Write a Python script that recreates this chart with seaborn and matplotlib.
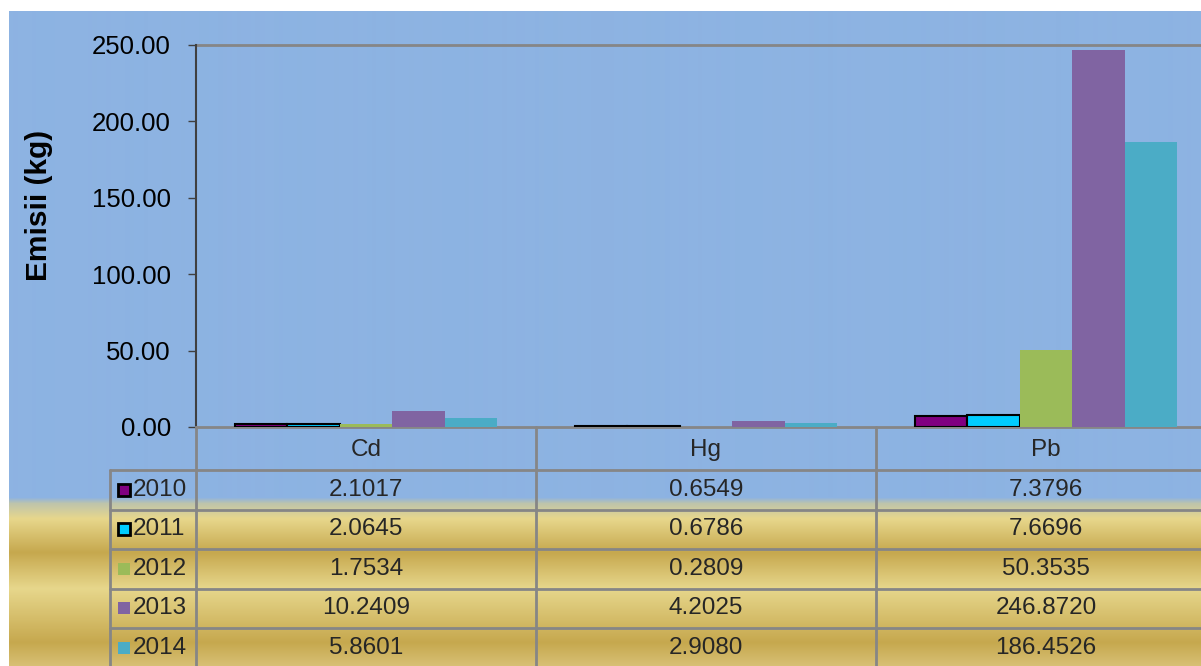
import numpy as np
import pandas as pd
import matplotlib
matplotlib.use("Agg")
import matplotlib.pyplot as plt
import matplotlib.transforms as mtransforms
import seaborn as sns

# --- data -------------------------------------------------------------
metals = ["Cd", "Hg", "Pb"]
years = ["2010", "2011", "2012", "2013", "2014"]
v2010 = [2.1017, 0.6549, 7.3796]
v2011 = [2.0645, 0.6786, 7.6696]
v2012 = [1.7534, 0.2809, 50.3535]
v2013 = [10.2409, 4.2025, 246.8720]
v2014 = [5.8601, 2.9080, 186.4526]
series = [v2010, v2011, v2012, v2013, v2014]
y_ticks = [0, 50, 100, 150, 200, 250]
y_label = "Emisii (kg)"

colors = ["#800080", "#00CCFF", "#9BBB59", "#8064A2", "#4BACC6"]
outlined = {"2010", "2011"}

df = pd.DataFrame(
    [(m, y, vals[i]) for y, vals in zip(years, series) for i, m in enumerate(metals)],
    columns=["metal", "year", "value"],
)

# --- figure layout (pixel based) -------------------------------------
W, H, DPI = 1201, 666, 100
sns.set_theme(style="white")
plt.rcParams["font.family"] = ["Liberation Sans", "DejaVu Sans"]
FS_TICK = 18.5
FS_TABLE = 17.5
FS_LABEL = 21.5

fig = plt.figure(figsize=(W / DPI, H / DPI), dpi=DPI, facecolor="white")

# background panel with the blue -> gold banded gradient
bg_left, bg_top = 9, 11
bg = fig.add_axes([bg_left / W, 0, 1 - bg_left / W, (H - bg_top) / H], zorder=0)
stops_y = [bg_top, 497, 503, 518, 552, 588, 642, H]
stops_c = np.array([
    (141, 179, 226), (141, 179, 226), (190, 196, 172), (231, 215, 140),
    (198, 168, 78), (231, 215, 140), (198, 168, 78), (216, 192, 118),
]) / 255.0
rows = np.arange(bg_top, H)
grad = np.stack([np.interp(rows, stops_y, stops_c[:, k]) for k in range(3)], axis=-1)
bg.imshow(grad[:, None, :], aspect="auto", interpolation="bilinear")
bg.set_axis_off()

# plot area
px_left, px_right, px_top, px_bottom = 196, 1216, 45, 427
ax = fig.add_axes([px_left / W, (H - px_bottom) / H,
                   (px_right - px_left) / W, (px_bottom - px_top) / H], zorder=2)
ax.set_facecolor("none")

sns.barplot(data=df, x="metal", y="value", hue="year", order=metals,
            hue_order=years, palette=colors, saturation=1, width=0.77,
            gap=0, legend=False, ax=ax, zorder=3)
for yr, cont in zip(years, ax.containers):
    for bar in cont:
        if yr in outlined:
            bar.set_edgecolor("black")
            bar.set_linewidth(1.5)
        else:
            bar.set_linewidth(0)

ax.set_xlim(-0.5, len(metals) - 0.5)
ax.set_ylim(0, 250)
ax.set_yticks(y_ticks)
ax.set_yticklabels([f"{t:.2f}" for t in y_ticks], fontsize=FS_TICK, color="black")
ax.set_xticks([])
ax.set_xlabel("")
ax.set_ylabel(y_label, fontsize=FS_LABEL, fontweight="bold", color="black")
ax.yaxis.set_label_coords((53 - px_left) / (px_right - px_left),
                          (px_bottom - 205) / (px_bottom - px_top))
ax.tick_params(axis="y", which="both", left=True, length=5.5, width=1,
               color="#404040", pad=12.5, direction="out")
for s in ["top", "right"]:
    ax.spines[s].set_visible(False)
ax.spines["left"].set_color("#404040")
ax.spines["left"].set_linewidth(1.5)
ax.spines["bottom"].set_color("#868686")
ax.spines["bottom"].set_linewidth(2)
ax.axhline(250, color="#868686", lw=2, zorder=1, clip_on=False)

# --- data table under the plot ---------------------------------------
trans = mtransforms.blended_transform_factory(ax.transData, ax.transAxes)
plot_h = px_bottom - px_top
col_w = (px_right - px_left) / len(metals)


def yfrac(py):
    return (px_bottom - py) / plot_h


header_bottom = 470
row_h = 39.5
row_edges = [header_bottom + i * row_h for i in range(len(years) + 1)]
label_left = -0.5 - (px_left - 110) / col_w
line_kw = dict(color="#868686", lw=2, transform=trans, clip_on=False, zorder=4)

# horizontal rules
for py in row_edges[:-1]:
    ax.plot([label_left, len(metals) - 0.5], [yfrac(py), yfrac(py)], **line_kw)
# vertical rules
for xv in np.arange(-0.5, len(metals), 1.0):
    ax.plot([xv, xv], [0, yfrac(H + 5)], **line_kw)
ax.plot([label_left, label_left], [yfrac(header_bottom), yfrac(H + 5)], **line_kw)

# header: category names
for i, m in enumerate(metals):
    ax.text(i, yfrac((px_bottom + header_bottom) / 2 + 1.5), m, ha="center",
            va="center", fontsize=FS_TABLE, transform=trans, clip_on=False, zorder=5)

# rows: legend key, year, values
key_x = label_left + (124 - 110) / col_w
year_x = label_left + (133 - 110) / col_w
for r, (yr, vals, c) in enumerate(zip(years, series, colors)):
    yc = yfrac((row_edges[r] + row_edges[r + 1]) / 2)
    ax.plot([key_x], [yc], marker="s", markersize=8.5, color=c,
            markeredgecolor="black" if yr in outlined else c,
            markeredgewidth=2 if yr in outlined else 0,
            transform=trans, clip_on=False, zorder=5)
    ax.text(year_x, yc, yr, ha="left", va="center", fontsize=FS_TABLE,
            transform=trans, clip_on=False, zorder=5)
    for i, v in enumerate(vals):
        ax.text(i, yc, f"{v:.4f}", ha="center", va="center", fontsize=FS_TABLE,
                transform=trans, clip_on=False, zorder=5)

fig.savefig("out.png", dpi=DPI, facecolor="white")
